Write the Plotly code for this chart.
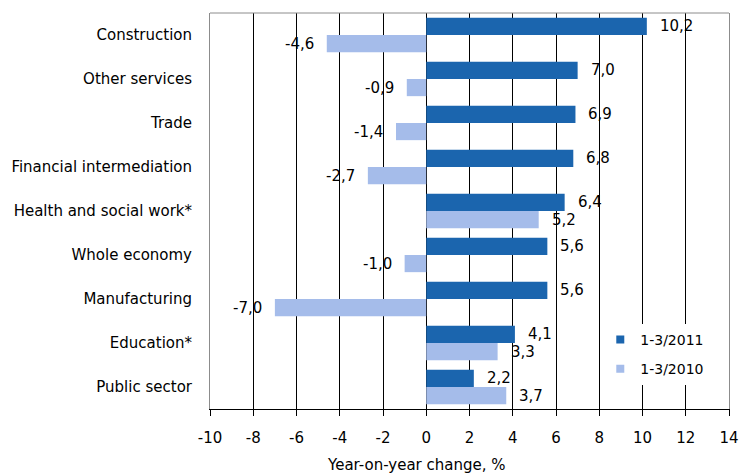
import plotly.graph_objects as go

categories = ["Construction", "Other services", "Trade", "Financial intermediation",
              "Health and social work*", "Whole economy", "Manufacturing",
              "Education*", "Public sector"]
values_2011 = [10.2, 7.0, 6.9, 6.8, 6.4, 5.6, 5.6, 4.1, 2.2]
values_2010 = [-4.6, -0.9, -1.4, -2.7, 5.2, -1.0, -7.0, 3.3, 3.7]
series_names = ["1-3/2011", "1-3/2010"]
x_ticks = list(range(-10, 15, 2))
x_title = "Year-on-year change, %"

color_2011 = "#1B65AE"
color_2010 = "#A5BCEA"
FONT = "DejaVu Sans"

def fmt(v):
    return f"{v:.1f}".replace(".", ",")

fig = go.Figure()
for name, vals, col in [(series_names[0], values_2011, color_2011),
                        (series_names[1], values_2010, color_2010)]:
    fig.add_trace(go.Bar(
        x=vals, y=categories, orientation="h", name=name,
        marker=dict(color=col, line=dict(width=0)), showlegend=False,
    ))
    fig.add_trace(go.Scatter(
        x=[None], y=[None], mode="markers", name=name, legendgroup=name,
        marker=dict(symbol="square", size=8, color=col), showlegend=True,
    ))

annotations = []
for vals, ys in [(values_2011, 9), (values_2010, -9)]:
    for cat, v in zip(categories, vals):
        annotations.append(dict(
            x=v, y=cat, xref="x", yref="y", text=fmt(v), showarrow=False,
            xanchor="left" if v >= 0 else "right",
            xshift=11 if v >= 0 else -11, yshift=ys,
            font=dict(family=FONT, size=15, color="#000000"),
        ))

annotations.append(dict(
    x=0.397, y=-0.142, xref="paper", yref="paper", text=x_title,
    showarrow=False, xanchor="center", yanchor="middle",
    font=dict(family=FONT, size=15, color="#000000"),
))

fig.update_layout(
    width=739, height=474,
    margin=dict(l=210, r=10, t=13, b=65, autoexpand=False),
    paper_bgcolor="white", plot_bgcolor="white",
    barmode="group", bargap=0.22, bargroupgap=0,
    font=dict(family=FONT, size=15, color="#000000"),
    annotations=annotations,
    legend=dict(
        x=0.752, y=0.215, xanchor="left", yanchor="top",
        bgcolor="white", borderwidth=0,
        font=dict(family=FONT, size=14, color="#000000"),
        traceorder="grouped", tracegroupgap=8, itemwidth=30,
    ),
    shapes=[dict(type="line", xref="paper", yref="paper", x0=0, x1=1, y0=1, y1=1,
                 line=dict(color="#8C8C8C", width=1))],
)

fig.update_xaxes(
    range=[-10, 14], tickvals=x_ticks, ticktext=[str(t) for t in x_ticks],
    automargin=False, ticklabeloverflow="allow",
    showgrid=True, gridcolor="#000000", gridwidth=1,
    zeroline=True, zerolinecolor="#000000", zerolinewidth=1,
    showline=True, linecolor="#000000", linewidth=1,
    ticks="outside", ticklen=6, tickcolor="#000000",
    ticklabelstandoff=9,
    tickfont=dict(family=FONT, size=15, color="#000000"),
)
fig.update_yaxes(
    type="category", categoryorder="array", categoryarray=categories,
    autorange="reversed", automargin=False,
    showgrid=False, zeroline=False,
    showline=True, linecolor="#8C8C8C", linewidth=1, mirror=True,
    ticks="outside", ticklen=14, tickcolor="rgba(0,0,0,0)",
    tickfont=dict(family=FONT, size=15, color="#000000"),
)

fig.write_html(
    "out.html",
    config={"displayModeBar": False},
    post_script="document.body.style.margin='0';document.body.style.overflow='hidden';",
)
